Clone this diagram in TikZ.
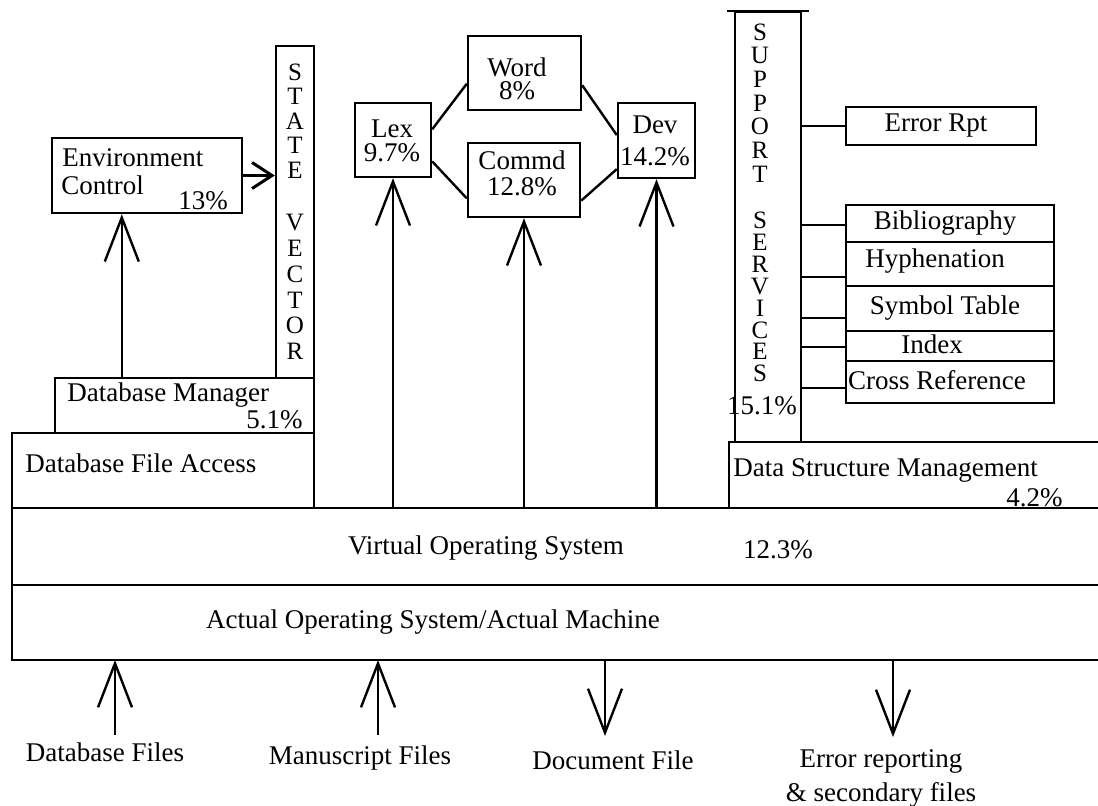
\documentclass[tikz,border=0pt]{standalone}
\usepackage{fontspec}
\setmainfont{Liberation Serif}
\usetikzlibrary{arrows.meta,fit,calc}
\begin{document}
\begin{tikzpicture}[x=0.5pt,y=-0.5pt,
  line/.style={line width=1.2pt},
  box/.style={draw,line width=1.2pt,inner sep=0pt},
  lbl/.style={inner sep=0pt,font=\fontsize{13.5}{15}\selectfont},
  stack/.style={inner sep=0pt,align=center,font=\fontsize{12.5}{#1}\selectfont},
  twoline/.style={inner sep=0pt,align=center,font=\fontsize{13.5}{#1}\selectfont},
  bigarrow/.style={line width=1.2pt,-{Straight Barb[length=22pt,width=17pt,line width=1.2pt]}},
  smallarrow/.style={line width=1.5pt,-{Straight Barb[length=10pt,width=13pt,line width=1.5pt]}}]
\useasboundingbox (0,0) rectangle (1098,805);

% ---------- layered bands ----------
\draw[line] (1098,508) -- (12,508) -- (12,660) -- (1098,660);
\draw[line] (12,585) -- (1098,585);
\coordinate (vostop) at (0,508);
\coordinate (aosbot) at (0,660);
\node[lbl] (vos) at (486,548) {Virtual Operating System};
\node[lbl] (vospct) at (778,550) {12.3\%};
\node[lbl] (aos) at (433,622) {Actual Operating System/Actual Machine};

% ---------- database side ----------
\node[box,fit={(12,433)(314,508)}] (dbfa) {};
\node[lbl,anchor=west] (dbfatext) at (25,463) {Database File Access};
\node[box,fit={(55,378)(314,433)}] (dbm) {};
\node[lbl,anchor=west] (dbmtext) at (67,395) {Database Manager};
\node[lbl,anchor=east] (dbmpct) at (303,420) {5.1\%};
\node[box,fit={(276,46)(314,378)}] (sv) {};
\node[stack=12.25pt] (svstate) at (295,121) {S\\T\\A\\T\\E};
\node[stack=12.9pt] (svvector) at (295,287) {V\\E\\C\\T\\O\\R};
\node[box,fit={(52,138)(242,213)}] (env) {};
\node[lbl,anchor=west] (envt1) at (62,158) {Environment};
\node[lbl,anchor=west] (envt2) at (61,185) {Control};
\node[lbl] (envpct) at (203,201) {13\%};
\coordinate (envin) at ([xshift=34pt]dbm.north west);
\draw[bigarrow] (envin) -- (envin |- env.south);
\draw[smallarrow] (env.east) -- (env.east -| sv.west);

% ---------- processing modules ----------
\node[box,fit={(355,103)(431,177)}] (lex) {};
\node[twoline=12pt] (lext) at (392,141) {Lex\\9.7\%};
\node[box,fit={(468,36)(581,110)}] (word) {};
\node[twoline=11.5pt] (wordt) at (517,79) {Word\\8\%};
\node[box,fit={(468,143)(580,217)}] (commd) {};
\node[twoline=13pt] (commdt) at (522,173) {Commd\\12.8\%};
\node[box,fit={(618,103)(695,178)}] (dev) {};
\node[twoline=16pt] (devt) at (655,141) {Dev\\14.2\%};
\draw[line] ($(lex.north east)!0.36!(lex.south east)$) -- ($(word.north west)!0.64!(word.south west)$);
\draw[line] ($(lex.north east)!0.78!(lex.south east)$) -- ($(commd.north west)!0.74!(commd.south west)$);
\draw[line] ($(word.north east)!0.66!(word.south east)$) -- ($(dev.north west)!0.43!(dev.south west)$);
\draw[line] ($(commd.north east)!0.77!(commd.south east)$) -- ($(dev.north west)!0.87!(dev.south west)$);
\draw[bigarrow] (lex.south |- vostop) -- (lex.south);
\draw[bigarrow] (commd.south |- vostop) -- (commd.south);
\draw[bigarrow] (dev.south |- vostop) -- (dev.south);

% ---------- support services ----------
\draw[line] (1098,442) -- (729,442) -- (729,508);
\node[lbl,anchor=west] (dsm) at (733,470) {Data Structure Management};
\node[lbl,anchor=east] (dsmpct) at (1063,498) {4.2\%};
\node[box,fit={(735,12)(801,442)}] (sup) {};
\draw[line] ([xshift=-3.5pt]sup.north west) -- ([xshift=3.5pt]sup.north east);
\node[stack=11.85pt] (supsupport) at (760,103) {S\\U\\P\\P\\O\\R\\T};
\node[stack=10.95pt] (supservices) at (760,297) {S\\E\\R\\V\\I\\C\\E\\S};
\node[lbl] (suppct) at (762,406) {15.1\%};

\node[box,fit={(846,107)(1036,145)}] (erpt) {};
\node[lbl] (erptt) at (936,126) {Error Rpt};
\node[box,fit={(846,205)(1054,242)}] (bib) {};
\node[box,fit={(846,242)(1054,286)}] (hyph) {};
\node[box,fit={(846,286)(1054,331)}] (sym) {};
\node[box,fit={(846,331)(1054,361)}] (idx) {};
\node[box,fit={(846,361)(1054,403)}] (xref) {};
\node[lbl] (bibt) at (945,223) {Bibliography};
\node[lbl] (hypht) at (935,261) {Hyphenation};
\node[lbl] (symt) at (945,308) {Symbol Table};
\node[lbl] (idxt) at (932,344) {Index};
\node[lbl] (xreft) at (937,380) {Cross Reference};
\foreach \yy/\t in {126/erpt,225/bib,277/hyph,318/sym,347/idx,388/xref}
  \draw[line] (sup.east |- 0,\yy) -- (\t.west |- 0,\yy);

% ---------- external files ----------
\node[lbl] (dbfiles) at (105,752) {Database Files};
\node[lbl] (msfiles) at (360,758) {Manuscript Files};
\node[lbl] (docfile) at (613,760) {Document File};
\node[lbl,align=center] (errfiles) at (881,778) {Error reporting\\[2pt]\& secondary files};
\coordinate (dbfa0) at (115,735);
\coordinate (msf0) at (378,735);
\coordinate (docf0) at (605,736);
\coordinate (errf0) at (893,737);
\draw[bigarrow] (dbfa0) -- (dbfa0 |- aosbot);
\draw[bigarrow] (msf0) -- (msf0 |- aosbot);
\draw[bigarrow] (docf0 |- aosbot) -- (docf0);
\draw[bigarrow] (errf0 |- aosbot) -- (errf0);
\end{tikzpicture}
\end{document}
